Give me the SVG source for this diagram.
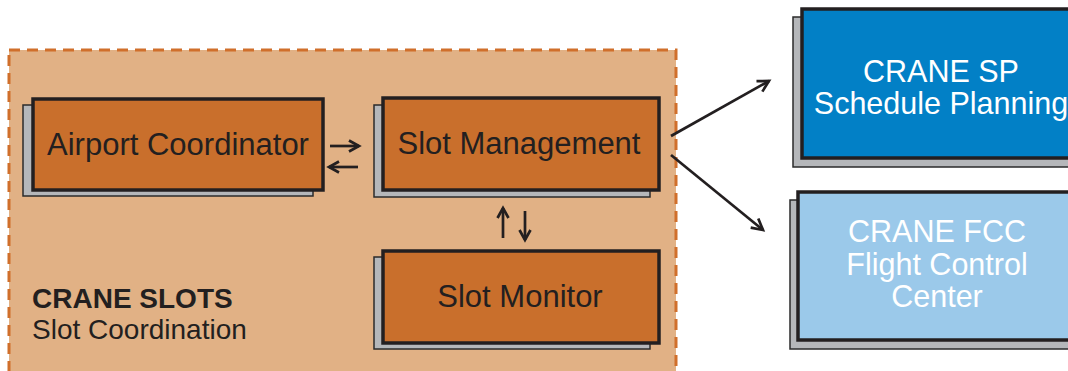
<svg xmlns="http://www.w3.org/2000/svg" width="1068" height="371" viewBox="0 0 1068 371">
<style>
.shadow{fill:#B5B7BA;stroke:#2b2b2b;stroke-width:1.5}
.front{stroke:#231F20;stroke-width:3.5}
.orange{fill:#C96F2C}
.sp{fill:#0280C6}
.fcc{fill:#9BC9EA}
.lbl{font-family:"Liberation Sans",Arial,sans-serif;font-size:31px;fill:#231F20;text-anchor:middle}
.wlbl{font-family:"Liberation Sans",Arial,sans-serif;font-size:30.5px;fill:#FFFFFF;text-anchor:middle}
.conn{stroke:#231F20;stroke-width:2.7;fill:none}
</style>
<defs>
<marker id="ah" markerUnits="userSpaceOnUse" markerWidth="16" markerHeight="16" refX="13" refY="8" orient="auto" overflow="visible">
<path d="M2,2 L13,8 L2,14" fill="none" stroke="#231F20" stroke-width="2.7"/>
</marker>
<marker id="ahs" markerUnits="userSpaceOnUse" markerWidth="14" markerHeight="14" refX="12" refY="7" orient="auto" overflow="visible">
<path d="M2,1.5 L12,7 L2,12.5" fill="none" stroke="#231F20" stroke-width="2.7"/>
</marker>
</defs>
<rect width="1068" height="371" fill="#FFFFFF"/>
<g id="crane-slots">
<rect x="9" y="50" width="667" height="340" fill="#E1B185" stroke="#D06F2B" stroke-width="3" stroke-dasharray="11 7"/>
<text x="32" y="308" font-family="'Liberation Sans',Arial,sans-serif" font-size="28px" font-weight="bold" fill="#231F20">CRANE SLOTS</text>
<text x="32" y="339" font-family="'Liberation Sans',Arial,sans-serif" font-size="28px" fill="#231F20">Slot Coordination</text>
</g>
<g id="airport-coordinator">
<rect class="shadow" x="23" y="105" width="290" height="91"/>
<rect class="front orange" x="33" y="99" width="290" height="91"/>
<text class="lbl" x="178" y="155">Airport Coordinator</text>
</g>
<g id="slot-management">
<rect class="shadow" x="374" y="105" width="276" height="92"/>
<rect class="front orange" x="383" y="98" width="276" height="92"/>
<text class="lbl" x="519" y="154">Slot Management</text>
</g>
<g id="slot-monitor">
<rect class="shadow" x="374" y="257" width="276" height="92"/>
<rect class="front orange" x="383" y="251" width="276" height="92"/>
<text class="lbl" x="520" y="307">Slot Monitor</text>
</g>
<g id="crane-sp">
<rect class="shadow" x="793" y="17" width="290" height="150"/>
<rect class="front sp" x="802" y="9" width="290" height="149"/>
<text class="wlbl" x="941" y="82">CRANE SP</text>
<text class="wlbl" x="941" y="114">Schedule Planning</text>
</g>
<g id="crane-fcc">
<rect class="shadow" x="790" y="200" width="290" height="149"/>
<rect class="front fcc" x="798" y="192" width="290" height="148"/>
<text class="wlbl" x="937" y="242">CRANE FCC</text>
<text class="wlbl" x="937" y="275">Flight Control</text>
<text class="wlbl" x="937" y="307">Center</text>
</g>
<g id="connectors">
<line class="conn" x1="330" y1="146" x2="359" y2="146" marker-end="url(#ahs)"/>
<line class="conn" x1="358" y1="167" x2="329" y2="167" marker-end="url(#ahs)"/>
<line class="conn" x1="503" y1="238" x2="503" y2="208" marker-end="url(#ahs)"/>
<line class="conn" x1="525" y1="211" x2="525" y2="240" marker-end="url(#ahs)"/>
<line class="conn" x1="671" y1="136" x2="769" y2="81" marker-end="url(#ah)"/>
<line class="conn" x1="671" y1="155" x2="763" y2="230" marker-end="url(#ah)"/>
</g>
</svg>
